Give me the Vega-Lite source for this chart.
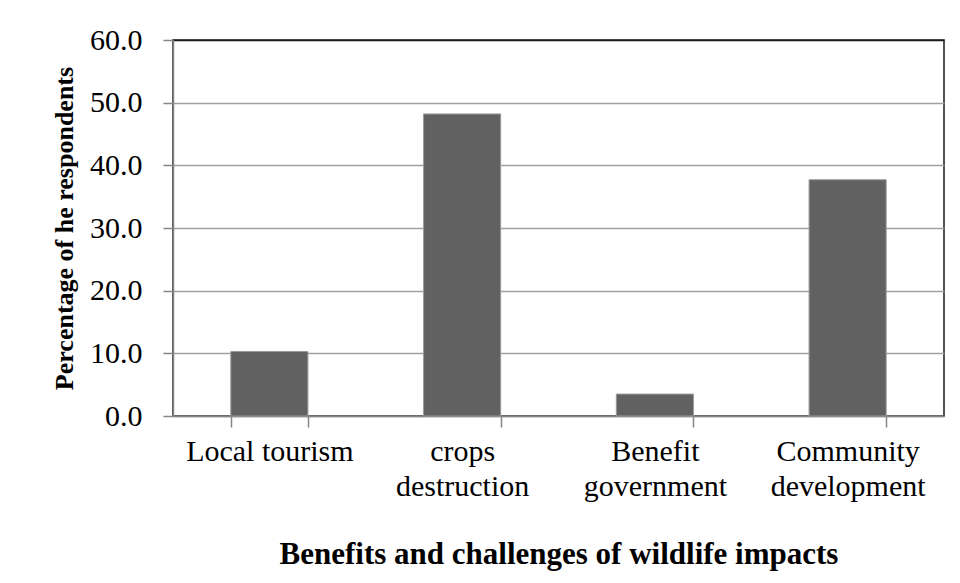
{
  "$schema": "https://vega.github.io/schema/vega-lite/v6.json",
  "autosize": "none",
  "width": 771,
  "height": 376,
  "padding": {"left": 173, "top": 40, "right": 16, "bottom": 167},
  "background": "white",
  "config": {
    "view": {"stroke": "#1a1a1a", "strokeWidth": 1.5},
    "font": "Liberation Serif"
  },
  "data": {
    "values": [
      {"category": "Local tourism", "percent": 10.3},
      {"category": "crops destruction", "percent": 48.2},
      {"category": "Benefit government", "percent": 3.5},
      {"category": "Community development", "percent": 37.7}
    ]
  },
  "mark": {"type": "bar", "color": "#616161", "stroke": "#9a9a9a", "strokeWidth": 1},
  "encoding": {
    "x": {
      "field": "category",
      "type": "nominal",
      "sort": null,
      "scale": {"paddingInner": 0.6, "paddingOuter": 0.3},
      "axis": {
        "title": "Benefits and challenges of wildlife impacts",
        "titleFont": "Liberation Serif",
        "titleFontWeight": "bold",
        "titleFontSize": 31,
        "titleColor": "black",
        "titlePadding": 38,
        "labelAngle": 0,
        "labelFont": "Liberation Serif",
        "labelFontSize": 30,
        "labelColor": "black",
        "labelPadding": 9,
        "labelLineHeight": 35,
        "labelExpr": "!datum.value ? '' : (datum.value == 'Local tourism' ? datum.value : split(datum.value, ' '))",
        "domainColor": "#868686",
        "domainWidth": 1.5,
        "tickColor": "#868686",
        "tickWidth": 1.5,
        "tickSize": 11,
        "tickBand": "extent",
        "grid": false
      }
    },
    "y": {
      "field": "percent",
      "type": "quantitative",
      "scale": {"domain": [0, 60], "nice": false},
      "axis": {
        "title": "Percentage of he respondents",
        "titleFont": "Liberation Serif",
        "titleFontWeight": "bold",
        "titleFontSize": 26,
        "titleColor": "black",
        "titlePadding": 12,
        "values": [0, 10, 20, 30, 40, 50, 60],
        "format": ".1f",
        "labelFont": "Liberation Serif",
        "labelFontSize": 30,
        "labelColor": "black",
        "labelPadding": 21,
        "domainColor": "#868686",
        "domainWidth": 1.5,
        "tickColor": "#868686",
        "tickWidth": 1.5,
        "tickSize": 10,
        "grid": true,
        "gridColor": {"condition": {"test": "datum.value == 60", "value": "#1a1a1a"}, "value": "#a0a0a0"},
        "gridWidth": 1.5
      }
    }
  }
}
